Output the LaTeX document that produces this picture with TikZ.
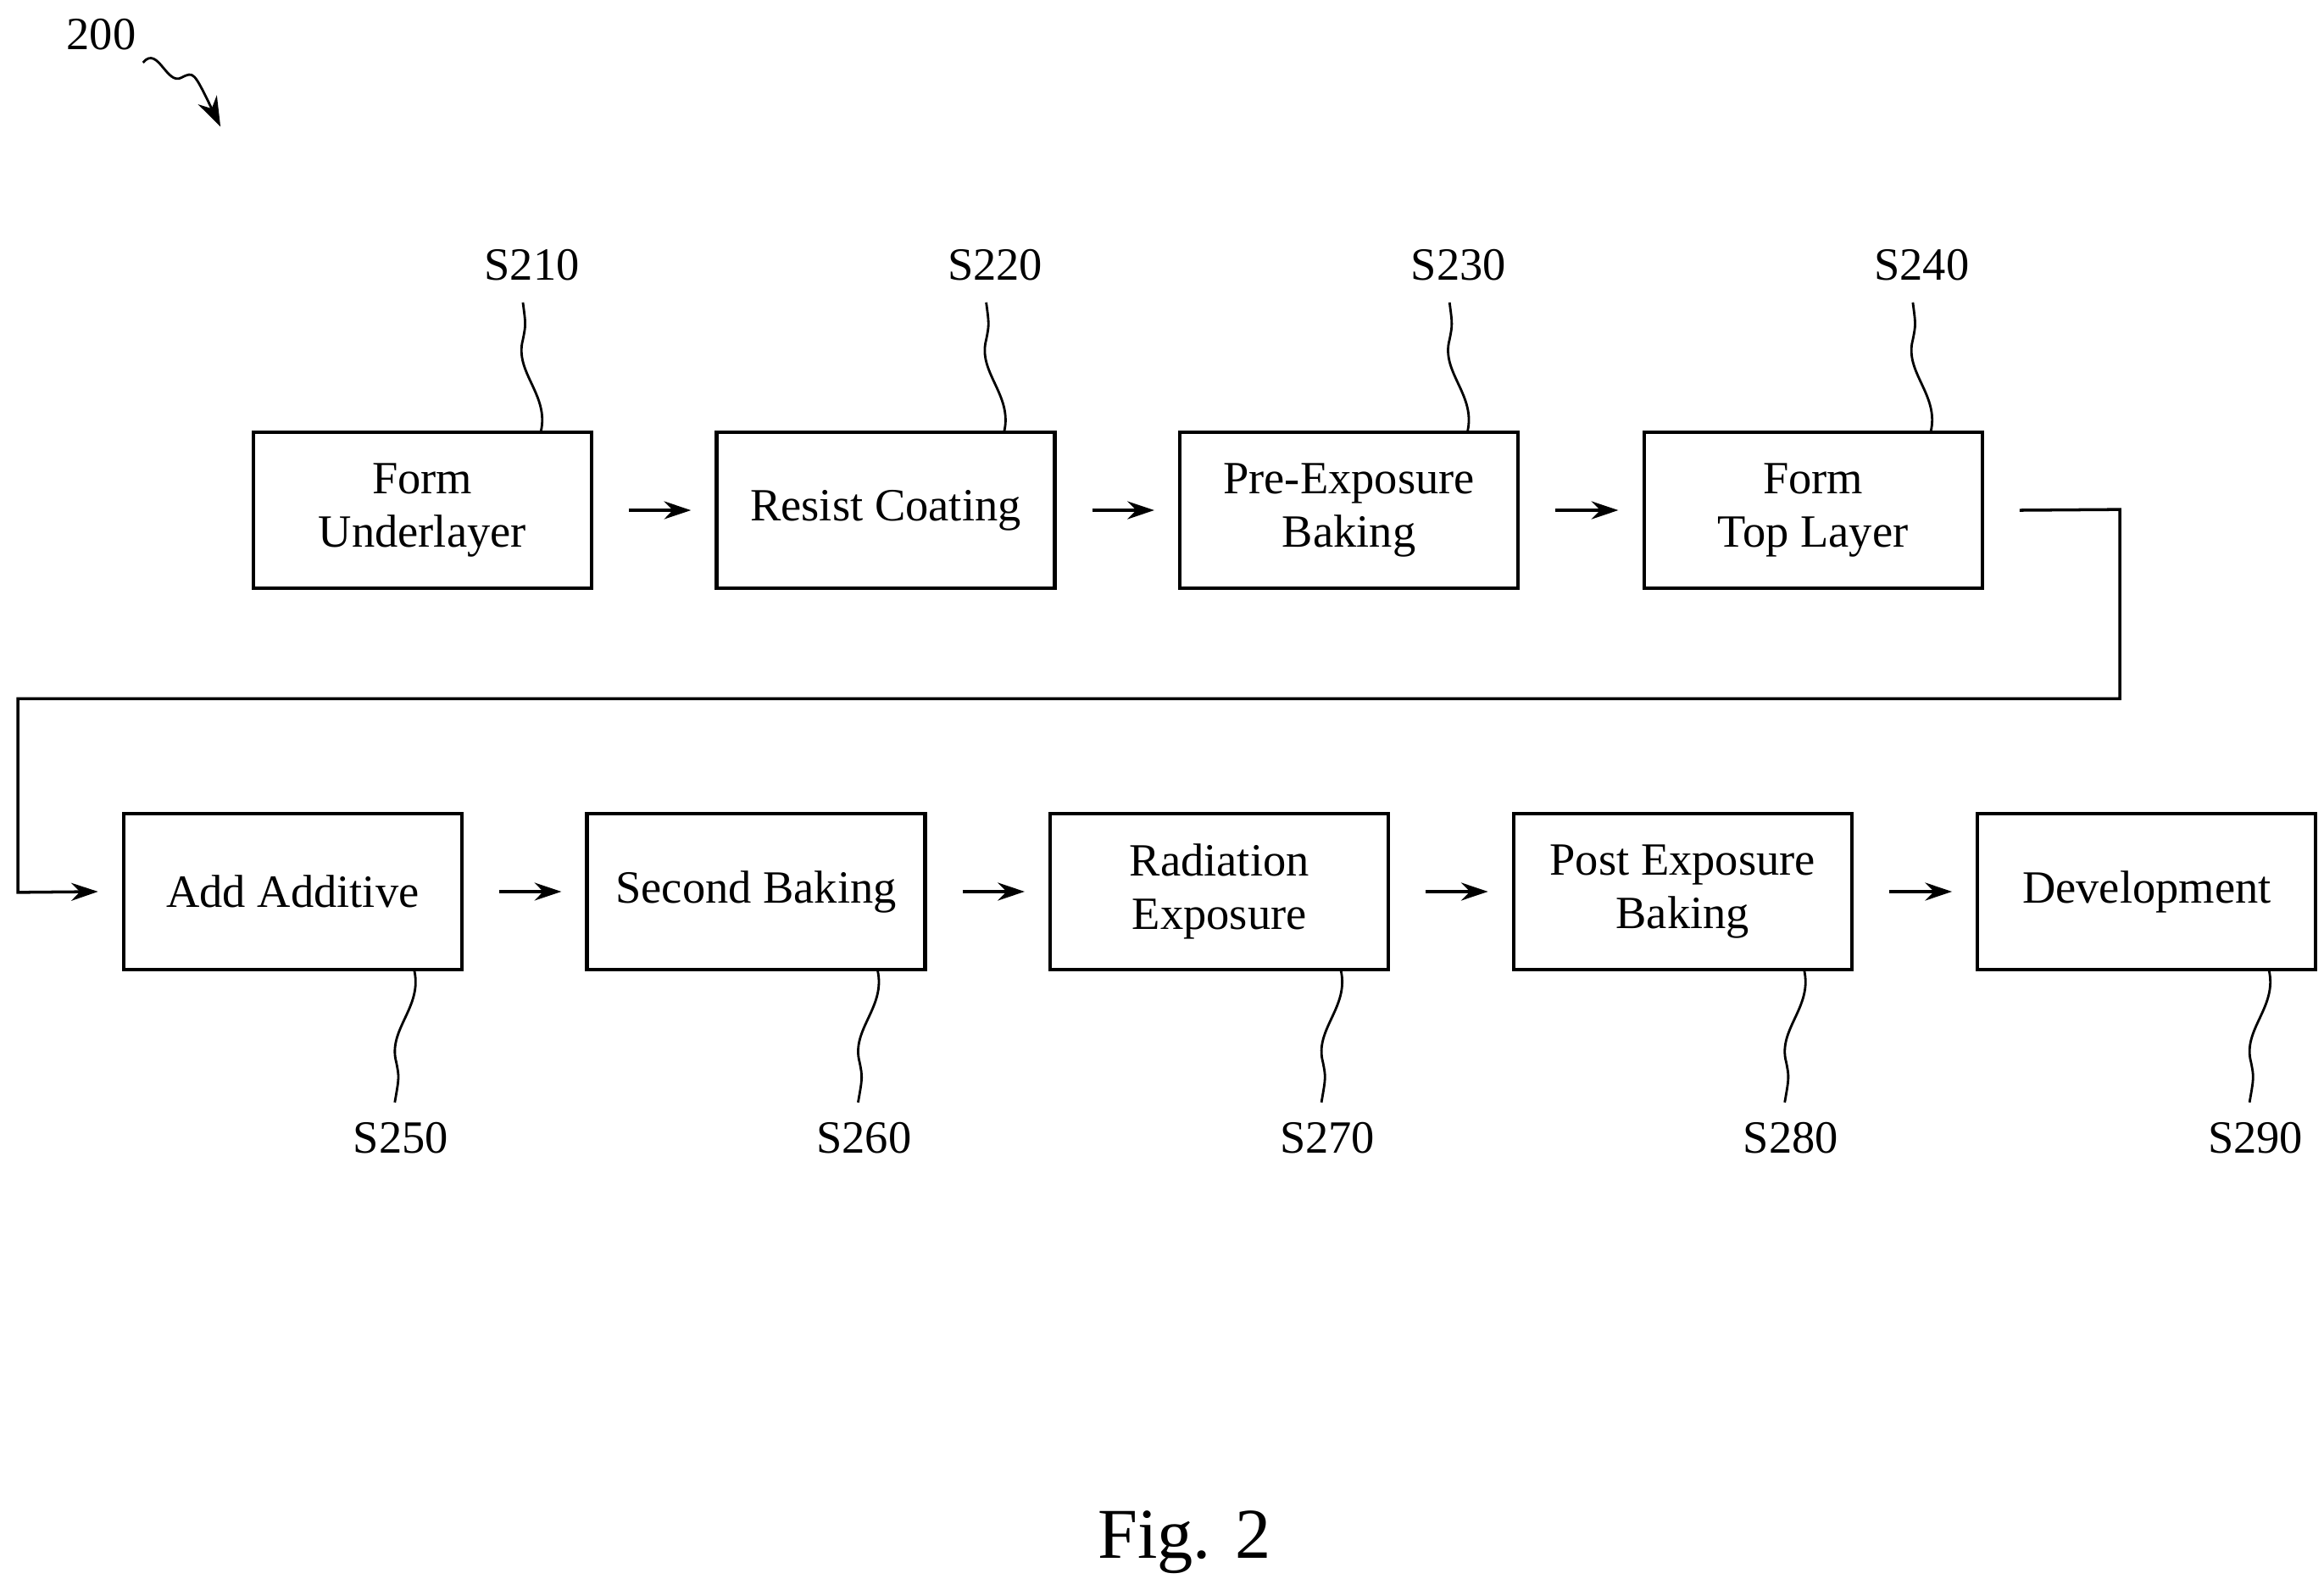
\documentclass[tikz,border=0pt]{standalone}
\usepackage{fontspec}
\setmainfont{Liberation Serif}
\usetikzlibrary{arrows.meta}
\begin{document}
\begin{tikzpicture}[x=0.5pt,y=-0.5pt,
 box/.style={draw,line width=1.2pt,minimum width=113.5pt,minimum height=52.5pt,inner sep=0pt,align=center,font=\fontsize{15.5}{18}\selectfont},
 lbl/.style={font=\fontsize{15.5}{18}\selectfont},
 arr/.style={line width=1pt,-{Stealth[length=9pt,width=6pt]}},
 sq/.style={line width=0.8pt}]
\useasboundingbox (0,0) rectangle (1560,1067);
\node[box] (b1) at (283.5,342.5) {Form\\Underlayer};
\node[box] (b2) at (594.5,342.5) {Resist Coating};
\node[box] (b3) at (905.5,342.5) {Pre-Exposure\\Baking};
\node[box] (b4) at (1217,342.5) {Form\\Top Layer};
\node[box] (b5) at (196.5,598.5) {Add Additive};
\node[box] (b6) at (507.5,598.5) {Second Baking};
\node[box] (b7) at (818.5,598.5) {Radiation\\Exposure};
\node[box] (b8) at (1129.5,598.5) {Post Exposure\\Baking};
\node[box] (b9) at (1441,598.5) {Development};
\foreach \a/\b in {b1/b2,b2/b3,b3/b4,b5/b6,b6/b7,b7/b8,b8/b9}
 \draw[arr] ([xshift=12]\a.east) -- ([xshift=-8]\b.west);
\coordinate (c1) at (1423,342);
\coordinate (c2) at (1423,469);
\coordinate (c3) at (12,469);
\coordinate (c4) at (12,599);
\draw[arr] ([xshift=12]b4.east) -- (c1) -- (c2) -- (c3) -- (c4) -- ([xshift=-8]b5.west);
% top labels
\foreach \n/\x in {b1/357,b2/668,b3/979,b4/1290}{
 \draw[sq] (\x+6,290) .. controls (\x+12,265) and (\x-12,250) .. (\x-6,228) .. controls (\x-4,218) .. (\x-6,203);
}
\node[lbl] (l1) at (357,178) {S210};
\node[lbl] (l2) at (668,178) {S220};
\node[lbl] (l3) at (979,178) {S230};
\node[lbl] (l4) at (1290,178) {S240};
\foreach \x in {269,580,891,1202,1514}{
 \draw[sq] (\x+9,651) .. controls (\x+15,676) and (\x-9,691) .. (\x-3,713) .. controls (\x-1,723) .. (\x-4,740);
}
\node[lbl] (l5) at (269,764) {S250};
\node[lbl] (l6) at (580,764) {S260};
\node[lbl] (l7) at (891,764) {S270};
\node[lbl] (l8) at (1202,764) {S280};
\node[lbl] (l9) at (1514,764) {S290};
\node[lbl] (l0) at (68,23) {200};
\coordinate (t0) at (148,85);
\draw[sq,-{Stealth[length=10pt,width=7pt]}] (96,42) .. controls (106,30) and (112,58) .. (122,52) .. controls (130,48) .. (t0);
\node[font=\fontsize{24}{28}\selectfont] (fig) at (795,1035) {Fig. 2};
\end{tikzpicture}
\end{document}
